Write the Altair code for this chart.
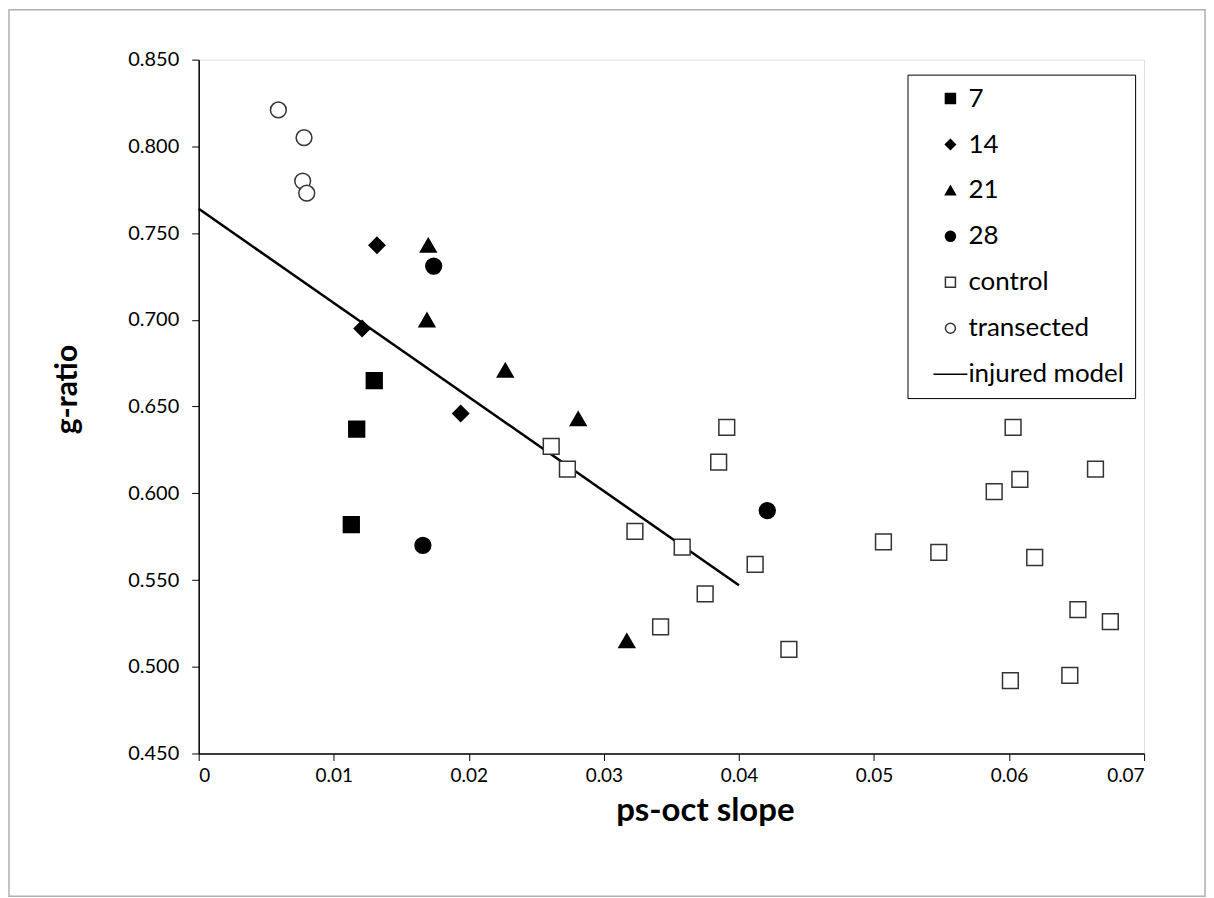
import altair as alt
import pandas as pd

# ---- data ----
groups = ["7", "14", "21", "28", "control", "transected", "injured model"]

x_7 = [0.0113, 0.0117, 0.0130]
y_7 = [0.582, 0.637, 0.665]

x_14 = [0.0121, 0.0132, 0.0194]
y_14 = [0.695, 0.743, 0.646]

x_21 = [0.0170, 0.0169, 0.0227, 0.0281, 0.0317]
y_21 = [0.743, 0.700, 0.671, 0.643, 0.515]

x_28 = [0.0174, 0.0166, 0.0421]
y_28 = [0.731, 0.570, 0.590]

x_control = [0.0261, 0.0273, 0.0391, 0.0385, 0.0323, 0.0358, 0.0412, 0.0375,
             0.0342, 0.0437, 0.0603, 0.0664, 0.0608, 0.0589, 0.0507, 0.0548,
             0.0619, 0.0651, 0.0675, 0.0645, 0.0601]
y_control = [0.627, 0.614, 0.638, 0.618, 0.578, 0.569, 0.559, 0.542,
             0.523, 0.510, 0.638, 0.614, 0.608, 0.601, 0.572, 0.566,
             0.563, 0.533, 0.526, 0.495, 0.492]

x_trans = [0.0059, 0.0078, 0.0077, 0.0080]
y_trans = [0.821, 0.805, 0.780, 0.773]

line_x = [0.0, 0.0400]
line_y = [0.764, 0.547]

x_ticks = [0, 0.01, 0.02, 0.03, 0.04, 0.05, 0.06, 0.07]
y_ticks = [0.45, 0.50, 0.55, 0.60, 0.65, 0.70, 0.75, 0.80, 0.85]

# ---- tables ----
rows = []
for g, xs, ys in [("7", x_7, y_7), ("14", x_14, y_14), ("21", x_21, y_21),
                  ("28", x_28, y_28), ("control", x_control, y_control),
                  ("transected", x_trans, y_trans)]:
    for a, b in zip(xs, ys):
        rows.append({"x": a, "y": b, "group": g})
pts = pd.DataFrame(rows)
line_df = pd.DataFrame({"x": line_x, "y": line_y})

FONT = "Lato"
W, H = 947, 695

xscale = alt.Scale(domain=[0, 0.07], nice=False, zero=False)
yscale = alt.Scale(domain=[0.45, 0.85], nice=False, zero=False)

shapes = ["square", "diamond", "triangle-up", "circle", "square", "circle",
          "M-3.4,0L3.4,0"]
fills = ["black", "black", "black", "black", "white", "white", "transparent"]
strokes = ["black", "black", "black", "black", "#333333", "#333333", "black"]

legend = alt.Legend(
    title=None, orient="none", legendX=710, legendY=15,
    strokeColor="black", fillColor="white", padding=11,
    labelFont=FONT, labelFontSize=26, labelColor="black",
    symbolSize=100, symbolStrokeWidth=1.5, symbolOffset=19,
    rowPadding=20, labelOffset=5,
)

x_axis = alt.Axis(
    values=x_ticks, format="~f", title="ps-oct slope", grid=False,
    labelFont=FONT, labelFontSize=19, labelColor="black", labelPadding=6,
    tickSize=7, tickColor="black", domainColor="black", domainWidth=1.5,
    titleFont=FONT, titleFontSize=33, titleFontWeight="bold", titleColor="black",
    titleX=507, titleY=57, titleBaseline="middle", titleAlign="center",
)
y_axis = alt.Axis(
    values=y_ticks, format=".3f", title="g-ratio", grid=False,
    labelFont=FONT, labelFontSize=20, labelColor="black", labelPadding=13,
    tickSize=7, tickColor="black", domainColor="black", domainWidth=1.5,
    titleFont=FONT, titleFontSize=30, titleFontWeight="bold", titleColor="black",
    titleX=-131, titleY=330, titleBaseline="middle", titleAlign="center",
    titleAngle=270,
)

points = alt.Chart(pts).mark_point(filled=True, size=250, strokeWidth=1.5, opacity=1).encode(
    x=alt.X("x:Q", scale=xscale, axis=x_axis),
    y=alt.Y("y:Q", scale=yscale, axis=y_axis),
    shape=alt.Shape("group:N", scale=alt.Scale(domain=groups, range=shapes), legend=legend),
    fill=alt.Fill("group:N", scale=alt.Scale(domain=groups, range=fills), legend=legend),
    stroke=alt.Stroke("group:N", scale=alt.Scale(domain=groups, range=strokes), legend=legend),
)

model = alt.Chart(line_df).mark_line(color="black", strokeWidth=2.5).encode(
    x=alt.X("x:Q", scale=xscale),
    y=alt.Y("y:Q", scale=yscale),
)

frame = alt.Chart(pd.DataFrame({"a": [0]})).mark_rect(
    fill="transparent", stroke="#b0b0b0", strokeWidth=1.5
).encode(
    x=alt.value(-190), x2=alt.value(1008), y=alt.value(-50), y2=alt.value(838)
)

chart = alt.layer(frame, model, points).properties(
    width=W, height=H, padding=0
).configure_view(
    stroke="#222222", strokeWidth=1.5
).configure(background="white")

chart.save("out.html", embed_options={"renderer": "svg", "actions": False})
